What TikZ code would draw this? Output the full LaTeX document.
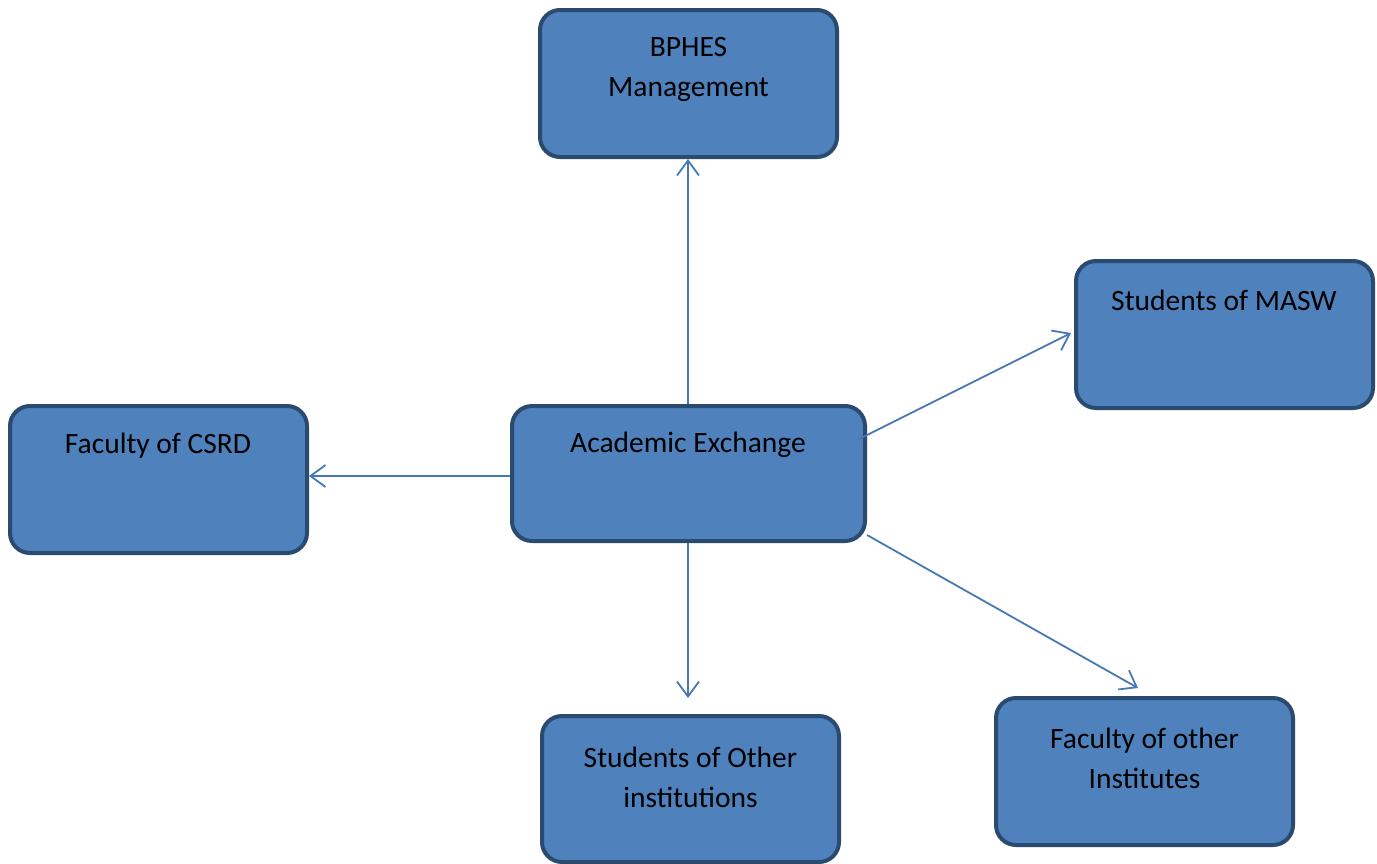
\documentclass[tikz,border=0pt]{standalone}
\usepackage{fontspec}
\setmainfont{Carlito}
\usetikzlibrary{arrows.meta,calc}
\definecolor{boxfill}{HTML}{4F81BD}
\definecolor{boxedge}{HTML}{2A4A70}
\definecolor{linkblue}{HTML}{4678B6}
\begin{document}
\begin{tikzpicture}[x=1pt,y=-1pt,
  card/.style={draw=boxedge,fill=boxfill,line width=4pt,rounded corners=20pt,
    minimum width=297pt,minimum height=147pt,inner sep=0pt},
  cardtext/.style={font=\fontsize{29.5}{40}\selectfont,align=center,text=black,inner sep=0pt},
  link/.style={draw=linkblue,line width=1.8pt,
    -{Straight Barb[length=15pt,width=22pt,line width=1.8pt]}}]
\useasboundingbox (0,0) rectangle (1377,863);

% boxes
\node[card] (bp) at (688.5,83.5) {};
\node[card] (masw) at (1224.5,334.5) {};
\node[card] (csrd) at (158.5,479.5) {};
\node[card,minimum width=353pt,minimum height=135pt] (ae) at (688.5,473.5) {};
\node[card,minimum height=146pt] (sio) at (690.5,789) {};
\node[card] (foi) at (1144.5,771.5) {};

% labels
\node[cardtext] (bpt) at (688.5,69) {BPHES\\Management};
\node[cardtext] (maswt) at (1224,300) {Students of MASW};
\node[cardtext] (csrdt) at (158,446) {Faculty of CSRD};
\node[cardtext] (aet) at (688,445) {Academic Exchange};
\node[cardtext] (siot) at (690.5,777) {Students of Other\\institutions};
\node[cardtext] (foit) at (1144.5,758.5) {Faculty of other\\Institutes};

% connector end points
\coordinate (upA) at ($(ae.north)+(-0.5,0)$);
\coordinate (leftA) at ($(ae.west)+(0,2.5)$);
\coordinate (maswA) at ($(ae.east)+(-10,-33.5)$);
\coordinate (maswB) at ($(masw.west)+(-3,-1.5)$);
\coordinate (downA) at ($(ae.south)+(-0.5,0)$);
\coordinate (foiA) at ($(ae.south east)+(0,-8)$);
\coordinate (foiB) at ($(foi.north)+(-6.5,-8)$);

% connectors
\draw[link] (upA) -- (upA |- bp.south);
\draw[link] (leftA) -- (leftA -| csrd.east);
\draw[link] (maswA) -- (maswB);
\draw[link,shorten >=16pt] (downA) -- (downA |- sio.north);
\draw[link] (foiA) -- (foiB);
\end{tikzpicture}
\end{document}
